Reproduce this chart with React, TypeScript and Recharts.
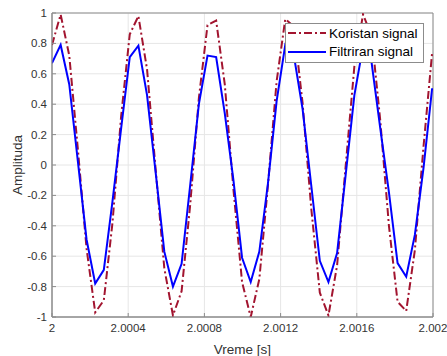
import React from "react";
import { LineChart, Line, XAxis, YAxis, CartesianGrid, ReferenceArea, Label } from "recharts";

// sample times [s] (fs ~ 22.05 kHz)
const TIME = [
  2, 2.0000454, 2.0000907, 2.0001361, 2.0001814, 2.0002268, 2.0002721, 2.0003175, 2.0003628,
  2.0004082, 2.0004535, 2.0004989, 2.0005442, 2.0005896, 2.0006349, 2.0006803, 2.0007256,
  2.000771, 2.0008163, 2.0008617, 2.000907, 2.0009524, 2.0009977, 2.0010431, 2.0010884,
  2.0011338, 2.0011791, 2.0012245, 2.0012698, 2.0013152, 2.0013605, 2.0014059, 2.0014512,
  2.0014966, 2.001542, 2.0015873, 2.0016327, 2.001678, 2.0017234, 2.0017687, 2.0018141,
  2.0018594, 2.0019048, 2.0019501, 2.0019955,
];

const KORISTAN = [
  0.79, 0.99, 0.72, 0.1, -0.55, -0.97, -0.89, -0.38, 0.32, 0.86, 0.98, 0.63, -0.03, -0.68, -0.99,
  -0.83, -0.26, 0.44, 0.92, 0.95, 0.53, -0.16, -0.77, -1.0, -0.75, -0.13, 0.55, 0.96, 0.91, 0.41,
  -0.28, -0.84, -0.99, -0.66, 0.0, 0.65, 0.99, 0.85, 0.29, -0.4, -0.9, -0.96, -0.56, 0.12, 0.74,
];

const FILTRIRAN = [
  0.67, 0.79, 0.53, 0.02, -0.49, -0.78, -0.69, -0.24, 0.24, 0.71, 0.785, 0.46, -0.05, -0.57, -0.8,
  -0.65, -0.13, 0.4, 0.72, 0.71, 0.34, -0.1, -0.61, -0.77, -0.57, -0.12, 0.42, 0.79, 0.72, 0.37,
  -0.13, -0.63, -0.77, -0.58, -0.06, 0.46, 0.78, 0.67, 0.24, -0.18, -0.645, -0.735, -0.46, -0.02, 0.505,
];

const X_TICKS = [2, 2.0004, 2.0008, 2.0012, 2.0016, 2.002];
const X_TICK_LABELS = ["2", "2.0004", "2.0008", "2.0012", "2.0016", "2.002"];
const Y_TICKS = [-1, -0.8, -0.6, -0.4, -0.2, 0, 0.2, 0.4, 0.6, 0.8, 1];

const data = TIME.map((t, i) => ({ t, koristan: KORISTAN[i], filtriran: FILTRIRAN[i] }));

const RED = "#A2142F";
const BLUE = "#0000FF";
const AXIS = "#8c8c8c";
const TEXT = "#333";
const FONT = "'Liberation Sans', Arial, Helvetica, sans-serif";

function XTick({ x, y, payload }: any) {
  const i = X_TICKS.indexOf(payload.value);
  return (
    <g>
      <line x1={x} x2={x} y1={y - 7} y2={y - 11} stroke={AXIS} />
      <text x={x} y={y} dy="0.71em" textAnchor="middle" fill={TEXT} fontSize={11.5} fontFamily={FONT}>
        {i >= 0 ? X_TICK_LABELS[i] : String(payload.value)}
      </text>
    </g>
  );
}

function YTick({ x, y, payload }: any) {
  return (
    <g>
      <line x1={x + 5} x2={x + 9} y1={y} y2={y} stroke={AXIS} />
      <text x={x} y={y} dy="0.35em" textAnchor="end" fill={TEXT} fontSize={11.5} fontFamily={FONT}>
        {String(payload.value)}
      </text>
    </g>
  );
}

function LegendBox() {
  const rows = [
    { name: "Koristan signal", color: RED, dash: "8 3 2 3" },
    { name: "Filtriran signal", color: BLUE, dash: undefined },
  ];
  return (
    <div
      style={{
        position: "absolute",
        left: 285,
        top: 23,
        width: 139,
        height: 40,
        boxSizing: "border-box",
        border: `1px solid ${AXIS}`,
        background: "#fff",
        fontFamily: FONT,
        fontSize: 13.5,
        color: "#000",
      }}
    >
      {rows.map((r) => (
        <div key={r.name} style={{ display: "flex", alignItems: "center", height: 18.5 }}>
          <svg width={41} height={10} style={{ marginLeft: 1 }}>
            <line x1={1} x2={39} y1={5} y2={5} stroke={r.color} strokeWidth={2} strokeDasharray={r.dash} />
          </svg>
          <span style={{ marginLeft: 1, whiteSpace: "nowrap" }}>{r.name}</span>
        </div>
      ))}
    </div>
  );
}

export default function App() {
  return (
    <div style={{ position: "fixed", left: 0, top: 0, width: 447, height: 356, background: "#fff" }}>
      <LineChart width={447} height={356} data={data} margin={{ top: 13, right: 14, bottom: 0, left: 0 }}>
        <CartesianGrid stroke="#e6e6e6" />
        <XAxis
          dataKey="t"
          type="number"
          domain={[2, 2.002]}
          ticks={X_TICKS}
          allowDataOverflow
          height={39}
          tickSize={0}
          tickMargin={7}
          tickLine={false}
          axisLine={{ stroke: AXIS }}
          tick={<XTick />}
          interval={0}
        >
          <Label
            value="Vreme [s]"
            position="insideBottom"
            offset={2}
            fill={TEXT}
            fontSize={13.5}
            fontFamily={FONT}
          />
        </XAxis>
        <YAxis
          type="number"
          domain={[-1, 1]}
          ticks={Y_TICKS}
          allowDataOverflow
          width={52}
          tickSize={0}
          tickMargin={5}
          tickLine={false}
          axisLine={{ stroke: AXIS }}
          tick={<YTick />}
          interval={0}
        >
          <Label
            content={({ viewBox }: any) => {
              const cx = 18;
              const cy = viewBox.y + viewBox.height / 2;
              return (
                <text
                  x={cx}
                  y={cy}
                  textAnchor="middle"
                  dominantBaseline="middle"
                  transform={`rotate(-90 ${cx} ${cy})`}
                  fill={TEXT}
                  fontSize={13.5}
                  fontFamily={FONT}
                >
                  Amplituda
                </text>
              );
            }}
          />
        </YAxis>
        <ReferenceArea x1={2} x2={2.002} y1={-1} y2={1} fill="none" stroke={AXIS} strokeWidth={1} ifOverflow="visible" />
        <Line
          dataKey="koristan"
          stroke={RED}
          strokeWidth={2}
          strokeDasharray="8 3 2 3"
          dot={false}
          type="linear"
          isAnimationActive={false}
        />
        <Line dataKey="filtriran" stroke={BLUE} strokeWidth={2} dot={false} type="linear" isAnimationActive={false} />
      </LineChart>
      <LegendBox />
    </div>
  );
}
